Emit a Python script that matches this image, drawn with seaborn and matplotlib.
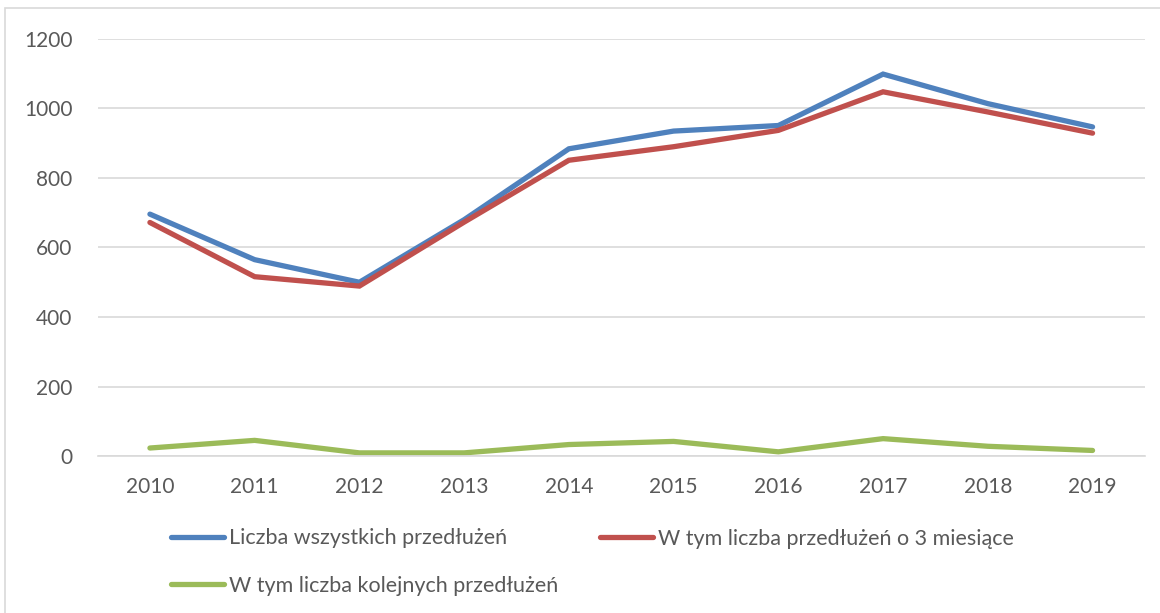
import matplotlib
matplotlib.use("Agg")
import matplotlib.pyplot as plt
from matplotlib.lines import Line2D
from matplotlib.patches import Rectangle
import pandas as pd
import seaborn as sns

# Dane
lata = [2010, 2011, 2012, 2013, 2014, 2015, 2016, 2017, 2018, 2019]
wszystkie = [696, 565, 500, 680, 884, 935, 951, 1099, 1014, 947]
o_3_miesiace = [672, 516, 489, 673, 851, 890, 937, 1048, 990, 929]
kolejne = [23, 45, 9, 9, 33, 42, 12, 50, 28, 16]

etykiety = ["Liczba wszystkich przedłużeń",
            "W tym liczba przedłużeń o 3 miesiące",
            "W tym liczba kolejnych przedłużeń"]
kolory = ["#4F81BD", "#C0504D", "#9BBB59"]

df = pd.DataFrame({
    "rok": [str(r) for r in lata] * 3,
    "wartosc": wszystkie + o_3_miesiace + kolejne,
    "seria": [etykiety[0]] * 10 + [etykiety[1]] * 10 + [etykiety[2]] * 10,
})

sns.set_theme(style="white")
plt.rcParams["font.family"] = ["Lato", "DejaVu Sans"]
szary = "#595959"

fig = plt.figure(figsize=(11.6, 6.13), dpi=100)
ax = fig.add_axes([0.0841, 0.2561, 0.9029, 0.6803])

sns.lineplot(data=df, x="rok", y="wartosc", hue="seria", palette=kolory,
             linewidth=3.8, ax=ax, legend=False, sort=False)
for ln in ax.lines:
    ln.set_solid_capstyle("round")
    ln.set_solid_joinstyle("miter")

ax.set_xlim(-0.5, len(lata) - 0.5)
ax.set_ylim(0, 1200)
ax.set_yticks(range(0, 1201, 200))
ax.yaxis.grid(True, color="#D9D9D9", linewidth=1.2)
ax.set_axisbelow(True)
for s in ["top", "right", "left"]:
    ax.spines[s].set_visible(False)
ax.spines["bottom"].set_color("#D9D9D9")
ax.spines["bottom"].set_linewidth(1.2)
ax.tick_params(axis="y", length=0, pad=18, labelsize=15, labelcolor=szary)
ax.tick_params(axis="x", length=0, pad=15, labelsize=15, labelcolor=szary)
ax.set_xlabel("")
ax.set_ylabel("")

# Legenda
uchwyty = [Line2D([], [], color=c, linewidth=3.8, solid_capstyle="round") for c in kolory]
leg1 = fig.legend([uchwyty[0], uchwyty[2]], [etykiety[0], etykiety[2]],
                  loc="center left", bbox_to_anchor=(0.1475, 0.0832), frameon=False,
                  handlelength=2.47, handletextpad=0.23, labelspacing=1.29,
                  fontsize=15.5, labelcolor=szary, borderaxespad=0, borderpad=0)
leg2 = fig.legend([uchwyty[1]], [etykiety[1]],
                  loc="center left", bbox_to_anchor=(0.5172, 0.1207), frameon=False,
                  handlelength=2.47, handletextpad=0.23,
                  fontsize=15.5, labelcolor=szary, borderaxespad=0, borderpad=0)

# Ramka wykresu
fig.patches.append(Rectangle((0.0045, -0.01), 1.0, 0.997, transform=fig.transFigure,
                             fill=False, edgecolor="#D9D9D9", linewidth=1.2))

fig.savefig("out.png", dpi=100)
